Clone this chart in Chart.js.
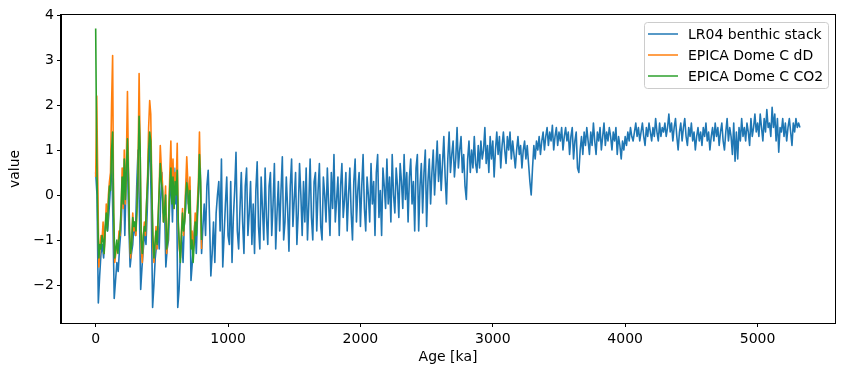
<!DOCTYPE html>
<html>
<head>
<meta charset="utf-8">
<script src="https://cdn.jsdelivr.net/npm/chart.js@4"></script>
<style>
  html, body { margin: 0; padding: 0; background: #fff; }
  canvas { display: block; }
</style>
</head>
<body>
<canvas id="paleoChart" width="844" height="376"></canvas>
<script>
// LR04 benthic stack (normalised), one value every 10 ka from 0 to 5320 ka
const lr04Step = 10;
const lr04Values = [
  0.5, 0.0, -2.4, -1.8, -1.3, -1.1, -1.4, -0.9, -0.5, -0.8,
  -0.4, 0.1, 1.0, -0.5, -2.3, -1.9, -1.5, -1.7, -1.2, -0.8,
  -0.1, 0.6, -0.9, 0.3, 0.7, -0.6, -1.6, -1.3, -1.1, -0.6,
  -0.9, 0.2, 1.0, -0.3, -2.1, -1.6, -1.2, -0.8, -1.1, -0.3,
  0.7, 1.2, -0.2, -2.5, -2.0, -1.4, -1.1, -0.7, -1.2, -0.2,
  0.5, -0.4, -0.2, -1.6, -1.2, -1.0, -0.1, 0.4, -0.6, 0.6,
  -0.2, 0.6, -2.5, -2.1, -1.3, -0.9, -1.5, -0.6, -0.3, 0.5,
  -0.2, 0.2, -1.9, -1.5, -1.0, -0.6, -1.3, -0.4, 0.3, 0.6,
  -1.3, -0.7, -0.2, -0.9, 0.2, 0.55, -0.5, -1.8, -1.3, -0.6,
  -1.5, -0.4, 0.0, 0.3, -0.8, 0.8, -1.6, -0.9, -0.2, 0.4,
  -0.9, -1.1, 0.3, -1.5, -0.5, 0.1, 0.95, -0.8, -1.2, -0.3,
  0.5, -0.6, -1.3, 0.2, 0.6, -0.9, -0.4, 0.3, -1.1, -0.2,
  -1.3, 0.1, 0.74, -0.7, -1.2, 0.4, -0.3, -1.0, 0.6, -0.5,
  -1.1, 0.2, 0.5, -0.9, -0.2, 0.7, -1.2, -0.4, 0.3, -0.8,
  0.1, 0.85, -1.0, -0.6, 0.4, -0.3, -1.25, 0.2, 0.8, -0.7,
  -0.1, 0.5, -1.1, -0.4, 0.7, 0.0, -0.9, 0.3, -0.6, 0.6,
  -1.0, -0.2, 0.8, -0.5, -1.0, 0.3, 0.5, -0.8, 0.1, 0.7,
  -0.7, -1.0, 0.4, 0.0, -0.6, 0.6, -0.2, -0.9, 0.5, -0.3,
  0.9, -0.6, -0.1, 0.4, -0.9, 0.2, 0.7, -0.5, -0.1, 0.5,
  -0.8, 0.0, 0.6, -0.4, -1.0, 0.3, 0.8, -0.6, 0.1, 0.5,
  -0.7, 0.2, 0.9, -0.3, -0.8, 0.4, 0.0, -0.6, 0.7, -0.2,
  0.3, -0.9, 0.5, 0.9, -0.5, 0.1, -0.9, 0.6, 0.2, -0.3,
  0.8, -0.2, 0.4, -0.6, 0.9, 0.0, -0.4, 0.6, 0.2, -0.5,
  0.7, 0.3, -0.3, 0.9, -0.1, 0.5, -0.6, 0.4, 0.8, -0.2,
  0.3, -0.8, 0.6, 0.9, -0.8, 0.2, 0.7, -0.4, 0.5, 1.0,
  -0.7, 0.3, 0.8, -0.2, 0.5, 1.0, 0.0, 0.6, 1.2, 0.3,
  0.9, 0.1, 0.7, 1.3, 0.4, -0.2, 0.8, 1.4, 0.5, 0.9,
  1.2, 0.4, 0.8, 1.5, 0.6, 1.0, 1.3, 0.5, 0.9, 0.2,
  -0.1, 0.8, 1.2, 0.5, 1.0, 0.6, 1.3, 0.7, 0.5, 1.1,
  0.6, 1.2, 0.8, 1.0, 1.5, 0.7, 1.1, 0.5, 1.3, 0.8,
  1.2, 0.4, 1.0, 1.4, 0.9, 1.3, 0.6, 1.1, 1.4, 1.0,
  0.7, 1.3, 1.0, 1.4, 0.8, 1.2, 0.9, 0.6, 1.0, 1.3,
  0.9, 1.1, 0.6, 1.0, 1.2, 0.8, 1.1, 0.7, 0.3, 0.0,
  0.6, 1.1, 0.8, 1.2, 1.0, 1.3, 0.9, 1.2, 1.4, 1.0,
  1.3, 1.5, 1.1, 1.4, 1.2, 1.55, 1.0, 1.3, 1.5, 1.1,
  1.4, 1.2, 1.5, 1.0, 1.3, 1.5, 1.2, 1.4, 0.9, 1.3,
  1.5, 0.8, 1.2, 1.4, 0.6, 0.5, 1.0, 1.3, 0.9, 1.4,
  1.1, 1.5, 1.2, 0.9, 1.4, 1.1, 1.6, 1.2, 0.9, 1.4,
  1.2, 1.5, 1.0, 1.3, 1.6, 1.1, 1.4, 1.2, 1.5, 1.3,
  1.0, 1.4, 1.2, 1.5, 0.9, 1.3, 1.1, 0.8, 1.2, 1.0,
  1.3, 1.1, 1.4, 1.2, 1.5, 1.3, 1.2, 1.4, 1.6, 1.3,
  1.5, 1.2, 1.4, 1.6, 1.3, 1.1, 1.5, 1.3, 1.6, 1.4,
  1.2, 1.5, 1.3, 1.7, 1.4, 1.2, 1.6, 1.3, 1.5, 1.4,
  1.6, 1.3, 1.5, 1.8, 1.4, 1.6, 1.2, 1.5, 1.7, 1.3,
  1.0, 1.4, 1.6, 1.2, 1.5, 1.7, 1.3, 1.1, 1.5, 1.3,
  1.6, 1.2, 1.4, 1.0, 1.3, 1.5, 1.2, 1.4, 1.1, 1.5,
  1.3, 1.6, 1.2, 1.4, 1.0, 1.3, 1.5, 1.2, 1.6, 1.3,
  1.5, 1.1, 1.4, 1.6, 1.2, 1.0, 1.4, 1.7, 1.2, 1.5,
  1.3, 0.9, 1.6, 0.75, 1.4, 0.8, 1.5, 1.2, 1.7, 1.3,
  1.5, 1.2, 1.6, 1.4, 1.1, 1.7, 1.3, 1.5, 1.8, 1.4,
  1.6, 1.3, 1.8, 1.5, 1.2, 1.7, 1.4, 1.9, 1.5, 1.6,
  1.3, 1.95, 1.5, 1.8, 1.2, 1.7, 0.95, 1.5, 1.4, 1.7,
  1.3, 1.6, 1.2, 1.5, 1.7, 1.4, 1.1, 1.6, 1.4, 1.7,
  1.5, 1.6, 1.5
];

// EPICA Dome C records (normalised), one value every 8 ka from 0 to 800 ka
const epicaStep = 8;
const dDValues = [
  0.4, 2.2, 0.3, -1.6, -1.2, -0.9, -1.0, -0.6, -1.3, -0.8,
  -0.2, -0.7, 0.0, 0.3, 0.5, 2.0, 3.1, -0.5, -1.5, -1.3,
  -1.1, -1.2, -0.8, -0.9, -0.4, 0.6, -0.3, 1.0, -0.2, 0.8,
  2.3, 0.5, -0.9, -1.4, -1.0, -0.4, -0.8, -0.6, -0.9, -0.3,
  0.6, 2.7, 1.0, -1.2, -1.5, -0.9, -0.6, -0.9, -0.2, 0.4,
  1.5, 2.1, 1.8, 0.2, -1.1, -1.5, -1.1, -0.7, -1.2, -0.5,
  0.2, 1.1, 0.6, 0.3, -0.6, -0.3, 0.2, -1.3, -1.0, -0.4,
  0.5, 1.2, -0.1, 0.8, -0.3, 0.5, 0.2, 1.15, -0.7, -1.2,
  -1.4, -0.8, -0.3, -0.9, -0.5, 0.2, 0.85, 0.3, -0.4, 0.4,
  -1.1, -0.8, -1.3, -0.9, -0.4, -0.8, -0.2, 0.3, 1.4, 0.2,
  -1.2
];
const co2Values = [
  3.7, 0.8, -0.6, -1.4, -1.1, -1.2, -0.9, -1.0, -1.3, -0.7,
  -0.4, -0.8, -0.2, 0.2, 0.1, 1.0, 1.4, -0.4, -1.4, -1.2,
  -1.0, -1.3, -1.0, -0.8, -0.3, 0.4, -0.2, 0.8, -0.1, 0.6,
  1.25, 0.4, -0.8, -1.3, -1.1, -0.5, -0.7, -0.6, -0.8, -0.3,
  0.5, 1.75, 1.0, -1.0, -1.3, -0.9, -0.7, -0.8, -0.2, 0.3,
  1.0, 1.4, 1.2, 0.1, -0.9, -1.4, -1.1, -0.8, -1.1, -0.5,
  0.1, 0.7, 0.3, 0.1, -0.6, -0.4, 0.0, -1.2, -1.0, -0.5,
  0.2, 0.6, -0.2, 0.4, -0.3, 0.3, 0.0, 0.55, -0.6, -1.1,
  -1.5, -0.9, -0.4, -0.8, -0.6, 0.0, 0.27, 0.1, -0.4, 0.1,
  -1.2, -1.0, -1.5, -1.1, -0.6, -0.9, -0.4, 0.1, 0.9, 0.3,
  -1.0
];

const xTicks = [0, 1000, 2000, 3000, 4000, 5000];
const yTicks = [-2, -1, 0, 1, 2, 3, 4];
const seriesLabels = ['LR04 benthic stack', 'EPICA Dome C dD', 'EPICA Dome C CO2'];
const seriesColors = ['#1f77b4', '#ff7f0e', '#2ca02c'];

const FONT = "'DejaVu Sans', 'Liberation Sans', sans-serif";

function toPoints(values, step) {
  return values.map((v, i) => ({ x: i * step, y: v }));
}

// matplotlib-like frame (top/right spines) and legend box inside the axes
const frameAndLegend = {
  id: 'frameAndLegend',
  afterDatasetsDraw(chart) {
    const { ctx, chartArea: a } = chart;
    ctx.save();
    ctx.strokeStyle = '#000';
    ctx.lineWidth = 1;
    ctx.strokeRect(Math.round(a.left) - 0.5, Math.round(a.top) - 0.5,
      Math.round(a.right - a.left) + 1, Math.round(a.bottom - a.top) + 1);

    const bx = 644.5, by = 22.5, bw = 184, bh = 66;
    ctx.fillStyle = 'rgba(255,255,255,0.8)';
    ctx.strokeStyle = '#cccccc';
    ctx.beginPath();
    ctx.roundRect(bx, by, bw, bh, 3);
    ctx.fill();
    ctx.stroke();
    ctx.font = '14px ' + FONT;
    ctx.textBaseline = 'middle';
    seriesLabels.forEach((label, i) => {
      const ly = 34 + i * 21;
      ctx.strokeStyle = seriesColors[i];
      ctx.lineWidth = 1.5;
      ctx.beginPath();
      ctx.moveTo(648, ly);
      ctx.lineTo(678, ly);
      ctx.stroke();
      ctx.fillStyle = '#000';
      ctx.fillText(label, 688, ly + 1);
    });
    ctx.restore();
  }
};

const minusSign = v => String(v).replace('-', '\u2212');
const tickFont = { family: FONT, size: 14 };

new Chart(document.getElementById('paleoChart'), {
  type: 'line',
  data: {
    datasets: [
      { label: seriesLabels[0], data: toPoints(lr04Values, lr04Step), borderColor: seriesColors[0], order: 3 },
      { label: seriesLabels[1], data: toPoints(dDValues, epicaStep), borderColor: seriesColors[1], order: 2 },
      { label: seriesLabels[2], data: toPoints(co2Values, epicaStep), borderColor: seriesColors[2], order: 1 }
    ]
  },
  options: {
    responsive: false,
    animation: false,
    events: [],
    layout: { padding: { top: 15, right: 9, left: 0, bottom: 0 } },
    elements: {
      line: { borderWidth: 1.6, tension: 0, fill: false, borderJoinStyle: 'round' },
      point: { radius: 0, hoverRadius: 0 }
    },
    plugins: { legend: { display: false }, tooltip: { enabled: false } },
    scales: {
      x: {
        type: 'linear',
        min: -262,
        max: 5585,
        afterBuildTicks: s => { s.ticks = xTicks.map(v => ({ value: v })); },
        afterFit: s => { s.height = 53; },
        grid: { display: true, drawOnChartArea: false, drawTicks: true, tickLength: 4, color: '#000' },
        border: { display: true, color: '#000', width: 1 },
        ticks: { font: tickFont, color: '#000', padding: 4, maxRotation: 0, callback: minusSign },
        title: { display: true, text: 'Age [ka]', font: tickFont, color: '#000', padding: { top: 0, bottom: 10 } }
      },
      y: {
        min: -2.844,
        max: 4,
        afterBuildTicks: s => { s.ticks = yTicks.map(v => ({ value: v })); },
        afterFit: s => { s.width = 61; },
        grid: { display: true, drawOnChartArea: false, drawTicks: true, tickLength: 4, color: '#000' },
        border: { display: true, color: '#000', width: 1 },
        ticks: { font: tickFont, color: '#000', padding: 3, callback: minusSign },
        title: { display: true, text: 'value', font: tickFont, color: '#000', padding: { top: 7, bottom: 0 } }
      }
    }
  },
  plugins: [frameAndLegend]
});
</script>
</body>
</html>
